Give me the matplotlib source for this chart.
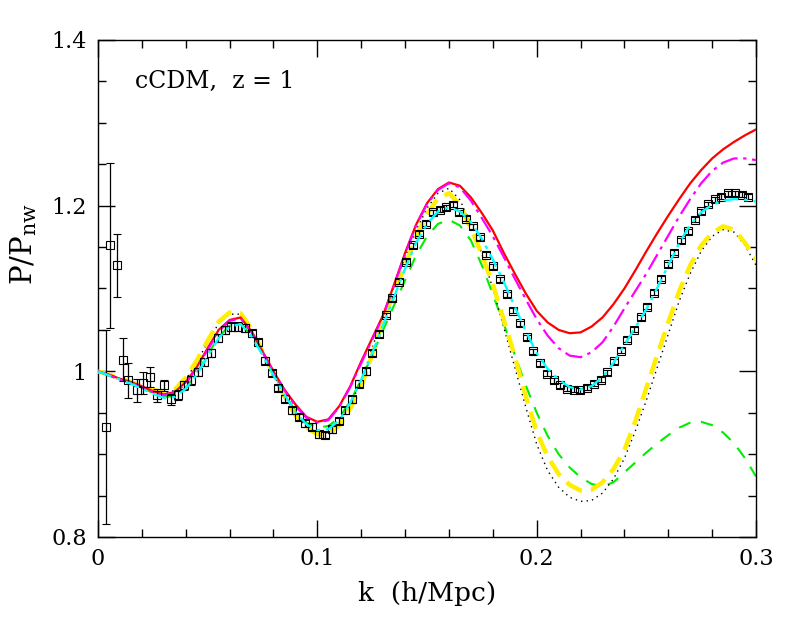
import numpy as np
import matplotlib
matplotlib.use("Agg")
import matplotlib.pyplot as plt
from matplotlib.ticker import MultipleLocator

plt.rcParams['font.family'] = ['DejaVu Serif']
plt.rcParams['mathtext.fontset'] = 'dejavuserif'

# k grid for the model curves (h/Mpc)
k_model = [0.000, 0.005, 0.010, 0.015, 0.020, 0.025, 0.030, 0.035, 0.040, 0.045,
           0.050, 0.055, 0.060, 0.065, 0.070, 0.075, 0.080, 0.085, 0.090, 0.095,
           0.100, 0.105, 0.110, 0.115, 0.120, 0.125, 0.130, 0.135, 0.140, 0.145,
           0.150, 0.155, 0.160, 0.165, 0.170, 0.175, 0.180, 0.185, 0.190, 0.195,
           0.200, 0.205, 0.210, 0.215, 0.220, 0.225, 0.230, 0.235, 0.240, 0.245,
           0.250, 0.255, 0.260, 0.265, 0.270, 0.275, 0.280, 0.285, 0.290, 0.295,
           0.300]

p_red = [1.000, 0.996, 0.991, 0.987, 0.982, 0.976, 0.972, 0.975, 0.987, 1.005,
         1.028, 1.050, 1.062, 1.065, 1.048, 1.024, 1.000, 0.978, 0.960, 0.945,
         0.939, 0.942, 0.958, 0.982, 1.012, 1.040, 1.068, 1.105, 1.143, 1.177,
         1.203, 1.220, 1.228, 1.224, 1.210, 1.191, 1.170, 1.143, 1.118, 1.094,
         1.073, 1.059, 1.050, 1.046, 1.047, 1.054, 1.065, 1.081, 1.100, 1.122,
         1.145, 1.167, 1.188, 1.208, 1.227, 1.243, 1.257, 1.268, 1.277, 1.285,
         1.292]

p_magenta = [1.000, 0.995, 0.990, 0.986, 0.981, 0.975, 0.971, 0.974, 0.985, 1.004,
             1.026, 1.048, 1.061, 1.064, 1.047, 1.023, 0.999, 0.977, 0.958, 0.944,
             0.938, 0.941, 0.957, 0.981, 1.010, 1.038, 1.067, 1.104, 1.141, 1.176,
             1.202, 1.219, 1.227, 1.222, 1.206, 1.185, 1.163, 1.138, 1.112, 1.087,
             1.063, 1.043, 1.028, 1.019, 1.017, 1.023, 1.035, 1.054, 1.076, 1.097,
             1.118, 1.141, 1.164, 1.187, 1.208, 1.227, 1.242, 1.252, 1.257, 1.257,
             1.255]

p_cyan = [1.000, 0.995, 0.990, 0.985, 0.979, 0.973, 0.968, 0.969, 0.979, 0.996,
          1.018, 1.040, 1.054, 1.057, 1.042, 1.020, 0.995, 0.972, 0.951, 0.936,
          0.929, 0.930, 0.941, 0.962, 0.990, 1.022, 1.056, 1.090, 1.124, 1.155,
          1.178, 1.193, 1.198, 1.193, 1.180, 1.160, 1.135, 1.108, 1.078, 1.049,
          1.022, 1.003, 0.990, 0.981, 0.978, 0.982, 0.993, 1.010, 1.032, 1.053,
          1.075, 1.101, 1.128, 1.155, 1.177, 1.192, 1.201, 1.206, 1.208, 1.207,
          1.205]

p_yellow = [1.000, 0.996, 0.991, 0.987, 0.982, 0.978, 0.974, 0.978, 0.992, 1.013,
            1.037, 1.060, 1.071, 1.070, 1.051, 1.024, 0.996, 0.970, 0.947, 0.932,
            0.924, 0.924, 0.935, 0.955, 0.982, 1.020, 1.062, 1.095, 1.128, 1.162,
            1.190, 1.209, 1.215, 1.201, 1.173, 1.141, 1.105, 1.062, 1.018, 0.970,
            0.927, 0.897, 0.876, 0.863, 0.856, 0.857, 0.866, 0.882, 0.905, 0.940,
            0.980, 1.020, 1.059, 1.097, 1.128, 1.152, 1.167, 1.175, 1.171, 1.155,
            1.135]

p_dotted = [1.000, 0.996, 0.991, 0.987, 0.982, 0.978, 0.974, 0.977, 0.990, 1.011,
            1.035, 1.058, 1.069, 1.069, 1.050, 1.025, 0.997, 0.971, 0.949, 0.933,
            0.925, 0.926, 0.938, 0.960, 0.988, 1.028, 1.068, 1.103, 1.138, 1.170,
            1.197, 1.215, 1.221, 1.207, 1.178, 1.142, 1.100, 1.053, 1.005, 0.957,
            0.912, 0.880, 0.860, 0.848, 0.843, 0.844, 0.853, 0.870, 0.895, 0.928,
            0.965, 1.005, 1.045, 1.085, 1.118, 1.145, 1.163, 1.171, 1.168, 1.152,
            1.128]

p_green = [1.000, 0.995, 0.990, 0.985, 0.980, 0.974, 0.969, 0.970, 0.980, 0.998,
           1.020, 1.042, 1.055, 1.058, 1.043, 1.021, 0.997, 0.973, 0.952, 0.938,
           0.932, 0.934, 0.944, 0.964, 0.990, 1.020, 1.050, 1.080, 1.110, 1.140,
           1.163, 1.178, 1.183, 1.176, 1.158, 1.128, 1.093, 1.057, 1.020, 0.983,
           0.950, 0.922, 0.900, 0.884, 0.872, 0.864, 0.861, 0.866, 0.878, 0.890,
           0.902, 0.913, 0.923, 0.932, 0.938, 0.939, 0.935, 0.926, 0.913, 0.895,
           0.873]

# measured points with error bars
k_data = [0.0035, 0.0055, 0.0085, 0.0115, 0.0138, 0.0176, 0.0207, 0.0237, 0.0268,
          0.0302, 0.0333, 0.0363,
          0.0394, 0.0424, 0.0455, 0.0485, 0.0516, 0.0547, 0.0577, 0.0608, 0.0638,
          0.0669, 0.0700, 0.0730, 0.0761, 0.0791, 0.0822, 0.0853, 0.0883, 0.0914,
          0.0944, 0.0975, 0.1006, 0.1036, 0.1067, 0.1097, 0.1128, 0.1159, 0.1189,
          0.1220, 0.1250, 0.1281, 0.1312, 0.1342, 0.1373, 0.1403, 0.1434, 0.1465,
          0.1495, 0.1526, 0.1557, 0.1587, 0.1618, 0.1648, 0.1679, 0.1710, 0.1740,
          0.1771, 0.1801, 0.1832, 0.1863, 0.1893, 0.1924, 0.1954, 0.1985, 0.2016,
          0.2046, 0.2077, 0.2107, 0.2138, 0.2169, 0.2199, 0.2230, 0.2260, 0.2291,
          0.2322, 0.2352, 0.2383, 0.2413, 0.2444, 0.2475, 0.2505, 0.2536, 0.2567,
          0.2597, 0.2628, 0.2658, 0.2689, 0.2720, 0.2750, 0.2781, 0.2811, 0.2842,
          0.2873, 0.2903, 0.2934, 0.2964]

p_data = [0.933, 1.152, 1.128, 1.014, 0.989, 0.977, 0.986, 0.993, 0.971,
          0.983, 0.966, 0.971,
          0.983, 0.989, 0.999, 1.011, 1.022, 1.040, 1.050, 1.054, 1.054,
          1.052, 1.046, 1.035, 1.013, 0.998, 0.980, 0.967, 0.953, 0.945,
          0.937, 0.933, 0.924, 0.923, 0.930, 0.940, 0.953, 0.966, 0.985,
          1.000, 1.022, 1.045, 1.068, 1.088, 1.108, 1.132, 1.152, 1.166,
          1.178, 1.192, 1.195, 1.198, 1.201, 1.192, 1.184, 1.175, 1.162,
          1.141, 1.127, 1.111, 1.093, 1.073, 1.058, 1.041, 1.024, 1.010,
          0.997, 0.989, 0.983, 0.979, 0.978, 0.977, 0.980, 0.985, 0.990,
          0.999, 1.012, 1.025, 1.038, 1.050, 1.065, 1.078, 1.095, 1.112,
          1.129, 1.143, 1.158, 1.169, 1.183, 1.193, 1.202, 1.208, 1.211,
          1.215, 1.215, 1.213, 1.211]

e_data = ([0.117, 0.100, 0.038, 0.026, 0.021, 0.014, 0.013, 0.012, 0.008,
           0.007, 0.007, 0.006]
          + [0.005] * 10 + [0.004] * 20 + [0.003] * 55)

fig = plt.figure(figsize=(7.97, 6.22), dpi=100)
ax = fig.add_axes([0.123, 0.1367, 0.8256, 0.799])

ax.plot(k_model, p_green, color='#00ee00', lw=1.5, ls=(0, (6, 5)), zorder=2)
ax.plot(k_model, p_dotted, color='black', lw=1.0, ls=(0, (1, 3)), zorder=2)
ax.plot(k_model, p_yellow, color='#ffee00', lw=3.2, ls=(0, (4, 2)), zorder=3)
ax.plot(k_model, p_red, color='red', lw=1.6, zorder=3)
ax.plot(k_model, p_magenta, color='magenta', lw=1.6,
        ls=(0, (8, 2.5, 1.5, 2.5)), zorder=4)
ax.errorbar(k_data, p_data, yerr=e_data, fmt='s', ms=6.3, mfc='none', mec='black',
            mew=0.8, ecolor='black', elinewidth=0.9, capsize=3, capthick=0.9,
            zorder=5)
ax.plot(k_model, p_cyan, color='cyan', lw=1.7,
        ls=(0, (6, 2.5, 1.5, 2.5)), zorder=6)

ax.set_xlim(0, 0.3)
ax.set_ylim(0.8, 1.4)
ax.xaxis.set_minor_locator(MultipleLocator(0.02))
ax.yaxis.set_minor_locator(MultipleLocator(0.05))
ax.set_xticks([0, 0.1, 0.2, 0.3])
ax.set_xticklabels(['0', '0.1', '0.2', '0.3'])
ax.set_yticks([0.8, 1.0, 1.2, 1.4])
ax.set_yticklabels(['0.8', '1', '1.2', '1.4'])
ax.tick_params(which='both', direction='in', top=True, right=True,
               labelsize=16, width=1.0, pad=8)
ax.tick_params(which='major', length=12)
ax.tick_params(which='minor', length=6)
for s in ax.spines.values():
    s.set_linewidth(1.0)

ax.set_xlabel('k  (h/Mpc)', fontsize=19, labelpad=8)
ax.set_ylabel(r'P/P$_{\rm nw}$', fontsize=21)
ax.yaxis.set_label_coords(-0.09, 0.59)
ax.text(0.056, 0.917, 'cCDM,  z = 1', transform=ax.transAxes, fontsize=17,
        va='center', ha='left')

fig.savefig('out.png', dpi=100)
